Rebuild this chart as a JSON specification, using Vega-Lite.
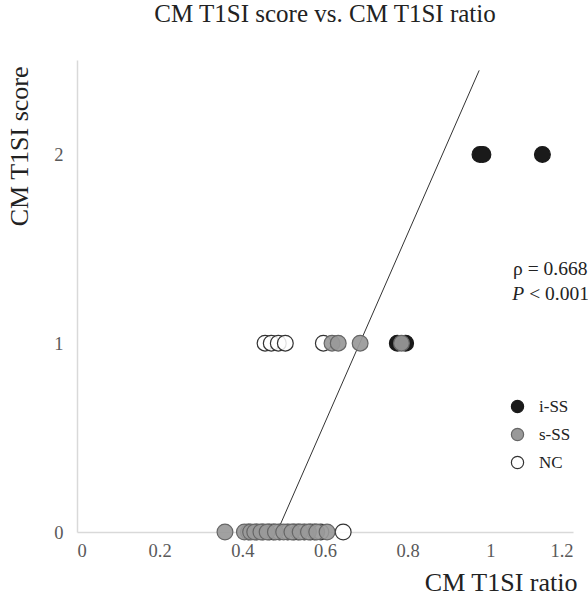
{
  "$schema": "https://vega.github.io/schema/vega-lite/v6.json",
  "width": 496,
  "height": 472,
  "autosize": "none",
  "padding": {"left": 77, "top": 60, "right": 15, "bottom": 74},
  "background": "white",
  "config": {
    "view": {"stroke": null},
    "font": "Liberation Serif",
    "axis": {
      "labelFont": "Liberation Serif",
      "labelFontSize": 18.5,
      "labelColor": "#595959",
      "domainColor": "#d9d9d9",
      "domainWidth": 1.5,
      "ticks": false,
      "grid": false,
      "titleFont": "Liberation Serif",
      "titleFontWeight": "normal",
      "titleColor": "#222222"
    },
    "legend": {"labelFont": "Liberation Serif", "labelFontSize": 17, "labelColor": "#222222"}
  },
  "title": {
    "text": "CM T1SI score vs. CM T1SI ratio",
    "font": "Liberation Serif",
    "fontSize": 25,
    "fontWeight": "normal",
    "color": "#222222",
    "anchor": "middle",
    "offset": 33
  },
  "datasets": {
    "pts": [
      {"group": "NC", "ratio": 0.455, "score": 1},
      {"group": "NC", "ratio": 0.47, "score": 1},
      {"group": "NC", "ratio": 0.487, "score": 1},
      {"group": "NC", "ratio": 0.504, "score": 1},
      {"group": "NC", "ratio": 0.596, "score": 1},
      {"group": "NC", "ratio": 0.415, "score": 0},
      {"group": "NC", "ratio": 0.435, "score": 0},
      {"group": "NC", "ratio": 0.45, "score": 0},
      {"group": "NC", "ratio": 0.465, "score": 0},
      {"group": "NC", "ratio": 0.475, "score": 0},
      {"group": "NC", "ratio": 0.49, "score": 0},
      {"group": "NC", "ratio": 0.51, "score": 0},
      {"group": "NC", "ratio": 0.525, "score": 0},
      {"group": "NC", "ratio": 0.535, "score": 0},
      {"group": "NC", "ratio": 0.55, "score": 0},
      {"group": "NC", "ratio": 0.565, "score": 0},
      {"group": "NC", "ratio": 0.575, "score": 0},
      {"group": "NC", "ratio": 0.59, "score": 0},
      {"group": "NC", "ratio": 0.644, "score": 0},
      {"group": "i-SS", "ratio": 0.975, "score": 2},
      {"group": "i-SS", "ratio": 0.982, "score": 2},
      {"group": "i-SS", "ratio": 1.126, "score": 2},
      {"group": "i-SS", "ratio": 0.775, "score": 1},
      {"group": "i-SS", "ratio": 0.795, "score": 1},
      {"group": "s-SS", "ratio": 0.617, "score": 1},
      {"group": "s-SS", "ratio": 0.632, "score": 1},
      {"group": "s-SS", "ratio": 0.685, "score": 1},
      {"group": "s-SS", "ratio": 0.785, "score": 1},
      {"group": "s-SS", "ratio": 0.358, "score": 0},
      {"group": "s-SS", "ratio": 0.405, "score": 0},
      {"group": "s-SS", "ratio": 0.42, "score": 0},
      {"group": "s-SS", "ratio": 0.43, "score": 0},
      {"group": "s-SS", "ratio": 0.445, "score": 0},
      {"group": "s-SS", "ratio": 0.46, "score": 0},
      {"group": "s-SS", "ratio": 0.48, "score": 0},
      {"group": "s-SS", "ratio": 0.5, "score": 0},
      {"group": "s-SS", "ratio": 0.52, "score": 0},
      {"group": "s-SS", "ratio": 0.54, "score": 0},
      {"group": "s-SS", "ratio": 0.56, "score": 0},
      {"group": "s-SS", "ratio": 0.58, "score": 0},
      {"group": "s-SS", "ratio": 0.605, "score": 0}
    ],
    "fit": [
      {"ratio": 0.484, "score": 0},
      {"ratio": 0.973, "score": 2.445}
    ],
    "one": [{}]
  },
  "layer": [
    {
      "data": {"name": "fit"},
      "mark": {"type": "line", "color": "#333333", "strokeWidth": 1},
      "encoding": {
        "x": {"field": "ratio", "type": "quantitative"},
        "y": {"field": "score", "type": "quantitative"}
      }
    },
    {
      "data": {"name": "pts"},
      "mark": {"type": "point", "filled": false, "size": 250, "strokeWidth": 1.2, "opacity": 1},
      "encoding": {
        "x": {
          "field": "ratio", "type": "quantitative",
          "scale": {"domain": [0, 1.2], "nice": false, "zero": true},
          "axis": {
            "values": [0, 0.2, 0.4, 0.6, 0.8, 1, 1.2],
            "format": "~g",
            "labelPadding": 9,
            "title": "CM T1SI ratio",
            "titleFontSize": 26,
            "titleAnchor": "end",
            "titleAlign": "right",
            "titleX": 500,
            "titleY": 58,
            "titleBaseline": "alphabetic"
          }
        },
        "y": {
          "field": "score", "type": "quantitative",
          "scale": {"domain": [0, 2.5], "nice": false},
          "axis": {
            "values": [0, 1, 2],
            "format": "~g",
            "labelPadding": 14,
            "title": "CM T1SI score",
            "titleFontSize": 26,
            "titleAngle": -90,
            "titleAlign": "right",
            "titleBaseline": "middle",
            "titleX": -58,
            "titleY": 6
          }
        },
        "fill": {
          "field": "group", "type": "nominal",
          "scale": {"domain": ["i-SS", "s-SS", "NC"], "range": ["#1a1a1a", "#999999", "#ffffff"]},
          "legend": {
            "title": null,
            "orient": "none",
            "legendX": 432,
            "legendY": 338,
            "symbolSize": 150,
            "symbolStrokeWidth": 1.2,
            "symbolOpacity": 1,
            "rowPadding": 9,
            "labelOffset": 13,
            "symbolFillOpacity": 1
          }
        },
        "fillOpacity": {
          "field": "group", "type": "nominal",
          "scale": {"domain": ["i-SS", "s-SS", "NC"], "range": [1, 0.85, 0.6]}
        },
        "stroke": {
          "field": "group", "type": "nominal",
          "scale": {"domain": ["i-SS", "s-SS", "NC"], "range": ["#1a1a1a", "#666666", "#333333"]}
        }
      }
    },
    {
      "data": {"name": "one"},
      "mark": {"type": "text", "align": "left", "baseline": "alphabetic", "font": "Liberation Serif", "fontSize": 19.5, "color": "#222222"},
      "encoding": {
        "x": {"datum": 1.055, "type": "quantitative"},
        "y": {"datum": 1.36, "type": "quantitative"},
        "text": {"value": "ρ = 0.668"}
      }
    },
    {
      "data": {"name": "one"},
      "mark": {"type": "text", "align": "left", "baseline": "alphabetic", "font": "Liberation Serif", "fontSize": 19.5, "fontStyle": "italic", "color": "#222222"},
      "encoding": {
        "x": {"datum": 1.053, "type": "quantitative"},
        "y": {"datum": 1.228, "type": "quantitative"},
        "text": {"value": "P"}
      }
    },
    {
      "data": {"name": "one"},
      "mark": {"type": "text", "align": "left", "baseline": "alphabetic", "font": "Liberation Serif", "fontSize": 19.5, "color": "#222222", "dx": 17},
      "encoding": {
        "x": {"datum": 1.053, "type": "quantitative"},
        "y": {"datum": 1.228, "type": "quantitative"},
        "text": {"value": "< 0.001"}
      }
    }
  ]
}
